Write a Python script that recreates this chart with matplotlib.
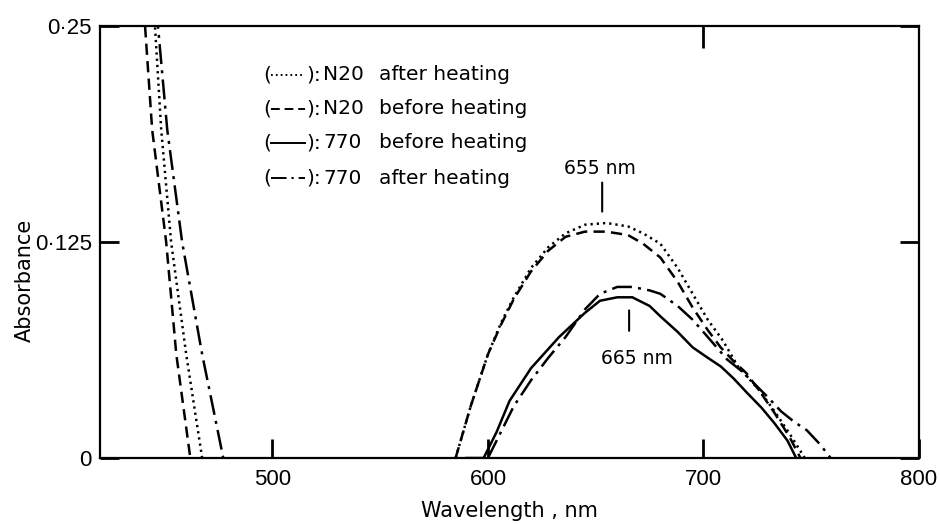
import matplotlib
matplotlib.use("Agg")
import matplotlib.pyplot as plt
from matplotlib.lines import Line2D

plt.rcParams['font.family'] = ['Liberation Sans', 'DejaVu Sans']

# N20 after heating (dotted)
n20_after_left_nm = [445.0, 445.5, 448.4, 453.0, 460.0, 467.4]
n20_after_left_abs = [0.26, 0.25, 0.19, 0.125, 0.06, 0.0]
n20_after_nm = [585, 592, 600, 606, 612, 620, 628, 636, 645, 655, 665, 672, 680,
                688, 695, 702, 709, 716, 726, 733, 740, 747]
n20_after_abs = [0.0, 0.03, 0.06, 0.078, 0.093, 0.11, 0.122, 0.13, 0.135, 0.136,
                 0.134, 0.13, 0.124, 0.11, 0.095, 0.08, 0.068, 0.053, 0.039,
                 0.027, 0.014, 0.0]

# N20 before heating (dashed)
n20_before_left_nm = [440.5, 440.9, 444.2, 450.7, 455.4, 461.9]
n20_before_left_abs = [0.26, 0.25, 0.19, 0.125, 0.06, 0.0]
n20_before_nm = [585, 592, 600, 606, 612, 620, 628, 636, 645, 655, 665, 672, 680,
                 688, 695, 702, 708, 714, 720, 727, 733, 740, 745]
n20_before_abs = [0.0, 0.03, 0.06, 0.077, 0.092, 0.108, 0.12, 0.128, 0.131, 0.131,
                  0.129, 0.124, 0.116, 0.102, 0.087, 0.074, 0.064, 0.056, 0.049,
                  0.037, 0.026, 0.012, 0.0]

# 770 before heating (solid)
s770_before_nm = [590, 598, 604, 610, 620, 633, 645, 652, 660, 667, 675, 680, 688,
                  695, 702, 708, 714, 720, 727, 733, 739, 743]
s770_before_abs = [0.0, 0.0, 0.015, 0.033, 0.052, 0.070, 0.084, 0.091, 0.093,
                   0.093, 0.088, 0.082, 0.073, 0.064, 0.058, 0.053, 0.046, 0.038,
                   0.029, 0.020, 0.010, 0.0]

# 770 after heating (dash-dot)
s770_after_left_nm = [446.5, 446.9, 451.2, 458.1, 467.4, 477.2]
s770_after_left_abs = [0.26, 0.25, 0.19, 0.125, 0.06, 0.0]
s770_after_nm = [600, 606, 612, 620, 628, 636, 645, 652, 660, 667, 675, 680, 688,
                 695, 702, 711, 718, 722, 730, 736, 742, 748, 754, 759]
s770_after_abs = [0.0, 0.015, 0.03, 0.045, 0.058, 0.07, 0.086, 0.095, 0.099, 0.099,
                  0.097, 0.095, 0.088, 0.080, 0.070, 0.057, 0.050, 0.045, 0.035,
                  0.027, 0.021, 0.016, 0.008, 0.0]

x_ticks = [500, 600, 700, 800]
x_tick_labels = ["500", "600", "700", "800"]
y_ticks = [0, 0.125, 0.25]
y_tick_labels = ["0", "0\u00b7125", "0\u00b725"]

W, H = 941, 524
fig = plt.figure(figsize=(W / 100, H / 100), dpi=100)
ax = fig.add_axes([100 / W, 1 - 458 / H, (919 - 100) / W, (458 - 26) / H])

DOT = (0, (0.9, 1.6))
DASH = (0, (4.5, 2.5))
DASHDOT = (0, (8, 2.5, 1.2, 2.5))
lw = 1.8
k = "black"

ax.plot(n20_after_left_nm, n20_after_left_abs, color=k, lw=lw, linestyle=DOT)
ax.plot(n20_after_nm, n20_after_abs, color=k, lw=lw, linestyle=DOT)
ax.plot(n20_before_left_nm, n20_before_left_abs, color=k, lw=lw, linestyle=DASH)
ax.plot(n20_before_nm, n20_before_abs, color=k, lw=lw, linestyle=DASH)
ax.plot(s770_before_nm, s770_before_abs, color=k, lw=lw, linestyle="-")
ax.plot(s770_after_left_nm, s770_after_left_abs, color=k, lw=lw, linestyle=DASHDOT)
ax.plot(s770_after_nm, s770_after_abs, color=k, lw=lw, linestyle=DASHDOT)

ax.set_xlim(420, 800)
ax.set_ylim(0, 0.25)
for s in ax.spines.values():
    s.set_linewidth(1.6)

ax.set_xticks(x_ticks)
ax.set_xticklabels(x_tick_labels)
ax.set_yticks(y_ticks)
ax.set_yticklabels(y_tick_labels)
ax.tick_params(axis="both", direction="in", length=14, width=2, labelsize=16,
               pad=6, right=True, top=False)
ax.tick_params(axis="x", pad=8)

# top tick at 700
sec = ax.secondary_xaxis("top")
sec.set_xticks([700])
sec.set_xticklabels([])
sec.tick_params(direction="in", length=16, width=2)
sec.spines["top"].set_visible(False)

ax.set_xlabel("Wavelength , nm", fontsize=15, labelpad=8,
              family=["DejaVu Sans"])
fig.text(25 / W, 1 - 280 / H, "Absorbance", rotation=90, fontsize=15,
         ha="center", va="center", family=["DejaVu Sans"])

# peak markers
ax.annotate("", xy=(653, 0.141), xytext=(653, 0.161),
            arrowprops=dict(arrowstyle="-", lw=1.5, color=k))
ax.text(652, 0.1675, "655 nm", fontsize=13.5, ha="center", va="center",
        family=["DejaVu Sans"])
ax.annotate("", xy=(665.5, 0.087), xytext=(665.5, 0.072),
            arrowprops=dict(arrowstyle="-", lw=1.5, color=k))
ax.text(669, 0.0573, "665 nm", fontsize=13.5, ha="center", va="center",
        family=["DejaVu Sans"])

# key
rows = [
    (75, DOT, "N20", "after heating"),
    (109, DASH, "N20", "before heating"),
    (143, "-", "770", "before heating"),
    (178, DASHDOT, "770", "after heating"),
]
kf = dict(fontsize=14.5, va="center", family=["DejaVu Sans"])
for py, ls, code, desc in rows:
    fy = 1 - py / H
    fig.text(263 / W, fy, "(", ha="left", **kf)
    fig.add_artist(Line2D([271 / W, 305 / W], [fy, fy], color=k, lw=1.4,
                          linestyle=ls, transform=fig.transFigure))
    fig.text(306 / W, fy, "):", ha="left", **kf)
    fig.text(323 / W, fy, code, ha="left", **kf)
    fig.text(379 / W, fy, desc, ha="left", **kf)

fig.savefig("out.png", dpi=100)
